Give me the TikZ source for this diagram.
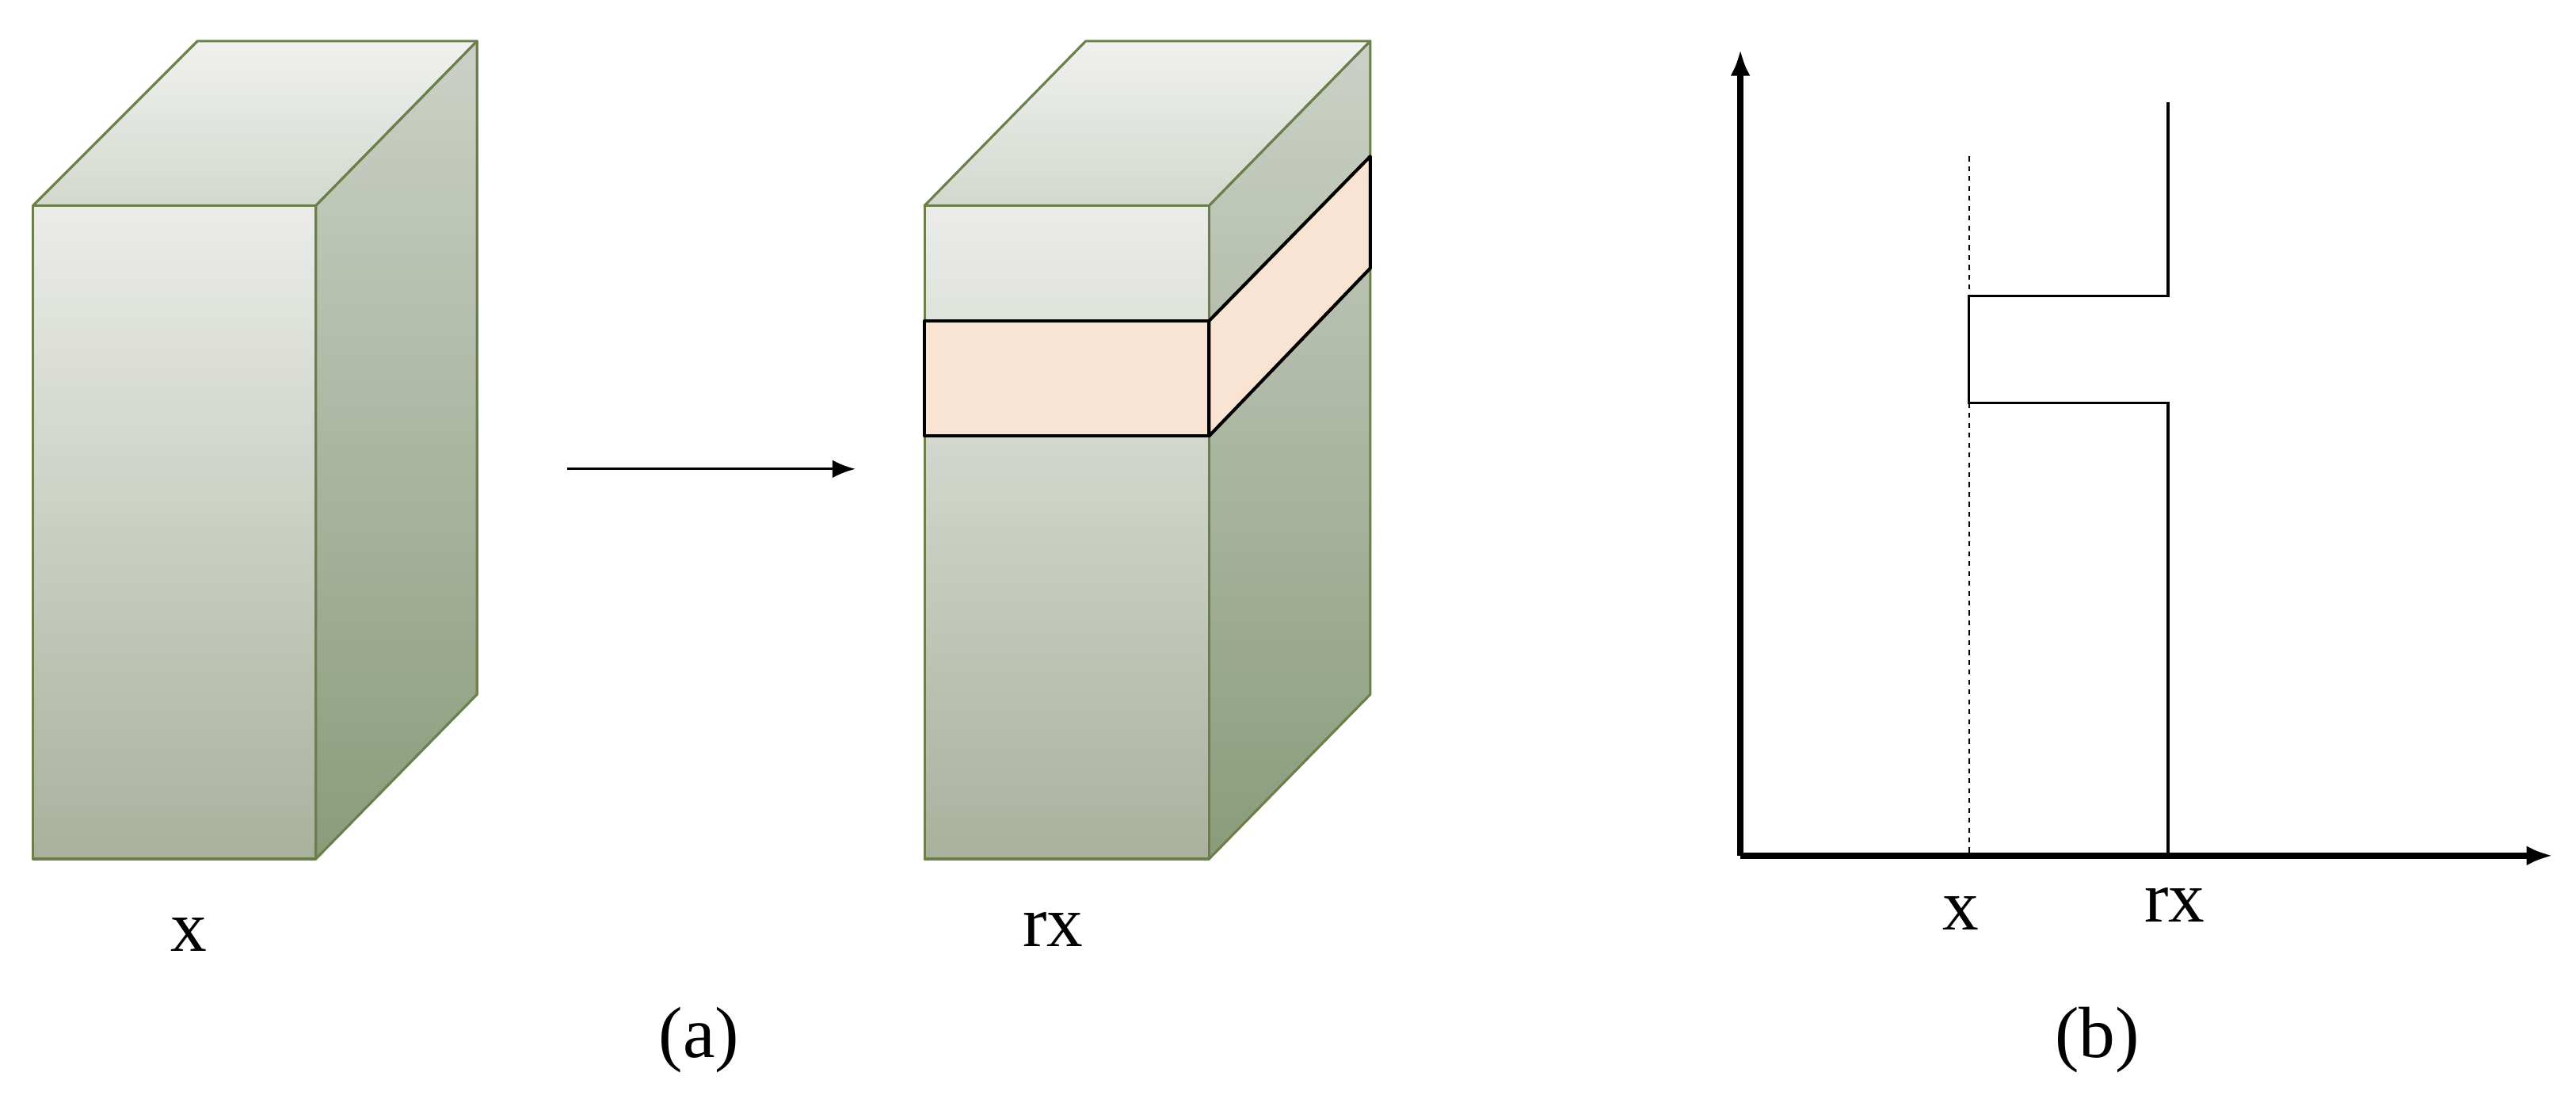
\documentclass[tikz,border=0pt]{standalone}
\usepackage{fontspec}
\setmainfont{Liberation Serif}
\usetikzlibrary{arrows.meta}
\begin{document}
\begin{tikzpicture}[x=1pt,y=-1pt,
  face/.style={draw=edgeg,line width=1.5pt,line join=round},
  band/.style={draw=black,line width=2pt,fill=peach,line join=round},
  lbl/.style={font=\fontsize{44}{50}\selectfont,inner sep=0},
  ax/.style={line width=3.5pt,-{Latex[length=16pt,width=12pt]}}]
\definecolor{edgeg}{HTML}{6B7F4A}
\definecolor{peach}{HTML}{F9E4D4}
\definecolor{ftop}{HTML}{EBECE9}
\definecolor{fbot}{HTML}{A9B19C}
\definecolor{stop}{HTML}{CBD1C7}
\definecolor{sbot}{HTML}{8B9B7A}
\definecolor{ttop}{HTML}{F0F1EF}
\definecolor{tbot}{HTML}{D3D8CE}
\useasboundingbox (0,0) rectangle (1566,670);
% box 1
\draw[face,top color=ttop,bottom color=tbot] (20,125)--(120,25)--(290,25)--(192,125)--cycle;
\draw[face,top color=stop,bottom color=sbot] (192,125)--(290,25)--(290,422)--(192,522)--cycle;
\draw[face,top color=ftop,bottom color=fbot] (20,125) rectangle (192,522);
% box 2
\draw[face,top color=ttop,bottom color=tbot] (562,125)--(660,25)--(833,25)--(735,125)--cycle;
\draw[face,top color=stop,bottom color=sbot] (735,125)--(833,25)--(833,422)--(735,522)--cycle;
\draw[face,top color=ftop,bottom color=fbot] (562,125) rectangle (735,522);
\draw[band] (735,195)--(833,95)--(833,163)--(735,265)--cycle;
\draw[band] (562,195) rectangle (735,265);
% arrow
\coordinate (a1) at (345,285); \coordinate (a2) at (520,285);
\draw[line width=1.5pt,-{Latex[length=14pt,width=11pt]}] (a1)--(a2);
\node[lbl] (lx) at (115,568) {x};
\node[lbl] (lrx) at (640,565) {rx};
\node[lbl] (la) at (425,632) {(a)};
\node[lbl] (lb) at (1275,632) {(b)};
% plot
\coordinate (o) at (1058,520);
\coordinate (yt) at (1058,30);
\coordinate (xr) at (1552,520);
\draw[ax] (o)--(yt);
\draw[ax] (o)--(xr);
\draw[dashed,line width=1pt] (1197,95)--(1197,520);
\draw[line width=1.5pt] (1318,62)--(1318,180)--(1197,180)--(1197,245)--(1318,245)--(1318,520);
\node[lbl] (px) at (1192,555) {x};
\node[lbl] (prx) at (1322,550) {rx};
\end{tikzpicture}
\end{document}
